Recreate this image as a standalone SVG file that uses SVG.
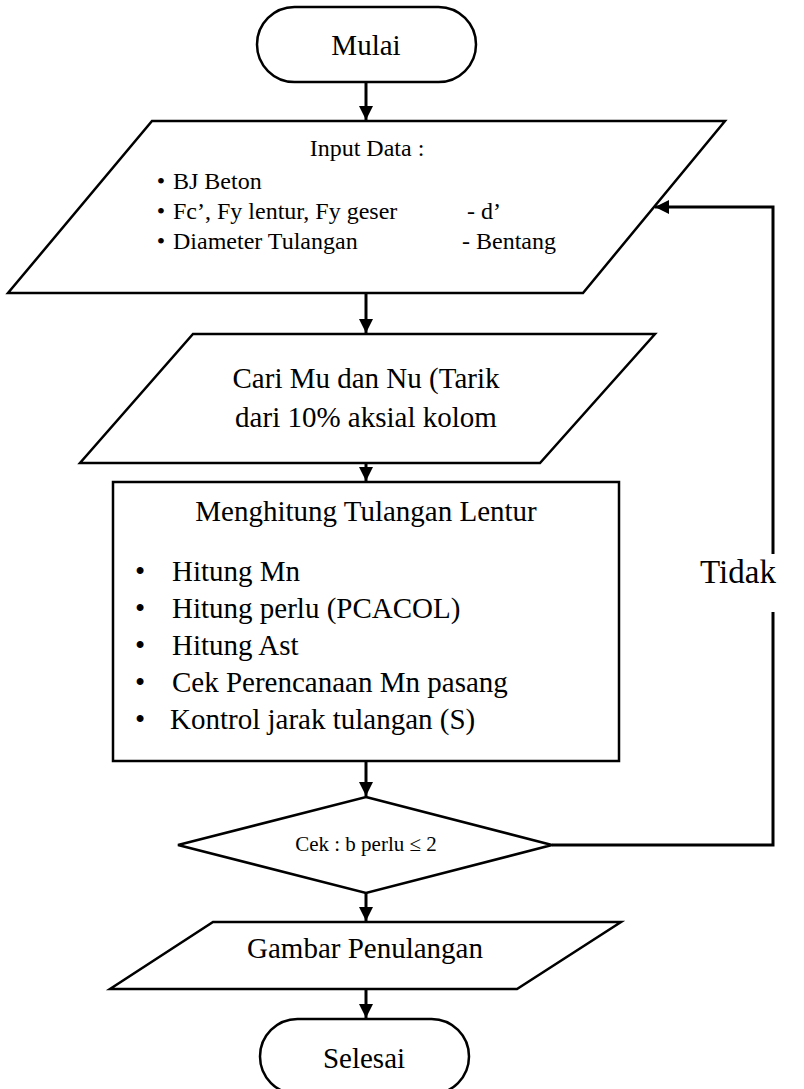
<svg xmlns="http://www.w3.org/2000/svg" width="804" height="1089" viewBox="0 0 804 1089" font-family="'Liberation Serif', 'DejaVu Serif', serif">
  <style>
    .shape { fill: #ffffff; stroke: #000000; stroke-width: 2.5; stroke-linejoin: miter; }
    .conn { fill: none; stroke: #000000; stroke-width: 3; }
    text { font-family: "Liberation Serif", "DejaVu Serif", serif; fill: #000000; }
    .big { font-size: 29px; }
    .mid { font-size: 24px; }
    .small { font-size: 21px; }
    .label { font-size: 33px; }
    .c { text-anchor: middle; }
  </style>
  <defs>
    <marker id="arrow" markerUnits="userSpaceOnUse" markerWidth="15" markerHeight="15" refX="14" refY="7" orient="auto">
      <path d="M0,0 L14,7 L0,14 z" fill="#000000"/>
    </marker>
  </defs>

  <rect width="804" height="1089" fill="#ffffff"/>

  <!-- connectors -->
  <g id="connectors">
    <path class="conn" d="M366,82 V120" marker-end="url(#arrow)"/>
    <path class="conn" d="M366,293 V333" marker-end="url(#arrow)"/>
    <path class="conn" d="M366,463 V481" marker-end="url(#arrow)"/>
    <path class="conn" d="M366,761 V796" marker-end="url(#arrow)"/>
    <path class="conn" d="M366,893 V921" marker-end="url(#arrow)"/>
    <path class="conn" d="M366,989 V1018" marker-end="url(#arrow)"/>
    <!-- "Tidak" loop back to the input step -->
    <path class="conn" d="M552,845 H773 V612"/>
    <path class="conn" d="M773,554 V207 H655" marker-end="url(#arrow)"/>
    <text class="label c" x="738" y="583">Tidak</text>
  </g>

  <!-- start -->
  <g id="mulai">
    <rect class="shape" x="257" y="7" width="219" height="75" rx="37.5" ry="37.5"/>
    <text class="big c" x="366" y="55">Mulai</text>
  </g>

  <!-- input data -->
  <g id="input-data">
    <polygon class="shape" points="152,121 725,121 583,293 8,293"/>
    <text class="mid c" x="367" y="156">Input Data :</text>
    <text class="mid c" x="161" y="189">•</text>
    <text class="mid" x="173" y="189">BJ Beton</text>
    <text class="mid c" x="161" y="219">•</text>
    <text class="mid" x="173" y="219">Fc’, Fy lentur, Fy geser</text>
    <text class="mid" x="467" y="219">- d’</text>
    <text class="mid c" x="161" y="249">•</text>
    <text class="mid" x="173" y="249">Diameter Tulangan</text>
    <text class="mid" x="462" y="249">- Bentang</text>
  </g>

  <!-- loads -->
  <g id="cari-mu-nu">
    <polygon class="shape" points="193,334 655,334 540,463 80,463"/>
    <text class="big c" x="366" y="388">Cari Mu dan Nu (Tarik</text>
    <text class="big c" x="366" y="427">dari 10% aksial kolom</text>
  </g>

  <!-- flexural reinforcement -->
  <g id="tulangan-lentur">
    <rect class="shape" x="113" y="482" width="506" height="279"/>
    <text class="big c" x="366" y="521">Menghitung Tulangan Lentur</text>
    <text class="big c" x="140" y="581">•</text>
    <text class="big" x="172" y="581">Hitung Mn</text>
    <text class="big c" x="140" y="618">•</text>
    <text class="big" x="172" y="618">Hitung perlu (PCACOL)</text>
    <text class="big c" x="140" y="655">•</text>
    <text class="big" x="172" y="655">Hitung Ast</text>
    <text class="big c" x="140" y="692">•</text>
    <text class="big" x="172" y="692">Cek Perencanaan Mn pasang</text>
    <text class="big c" x="140" y="729">•</text>
    <text class="big" x="170" y="729">Kontrol jarak tulangan (S)</text>
  </g>

  <!-- check -->
  <g id="cek">
    <polygon class="shape" points="366,797 552,845 366,893 178,845"/>
    <text class="small c" x="366" y="851">Cek : b perlu ≤ 2</text>
  </g>

  <!-- drawing -->
  <g id="gambar">
    <polygon class="shape" points="213,922 621,922 517,989 110,989"/>
    <text class="big c" x="365" y="958">Gambar Penulangan</text>
  </g>

  <!-- end -->
  <g id="selesai">
    <rect class="shape" x="260" y="1019" width="209" height="75" rx="37.5" ry="37.5"/>
    <text class="big c" x="364" y="1068">Selesai</text>
  </g>
</svg>
